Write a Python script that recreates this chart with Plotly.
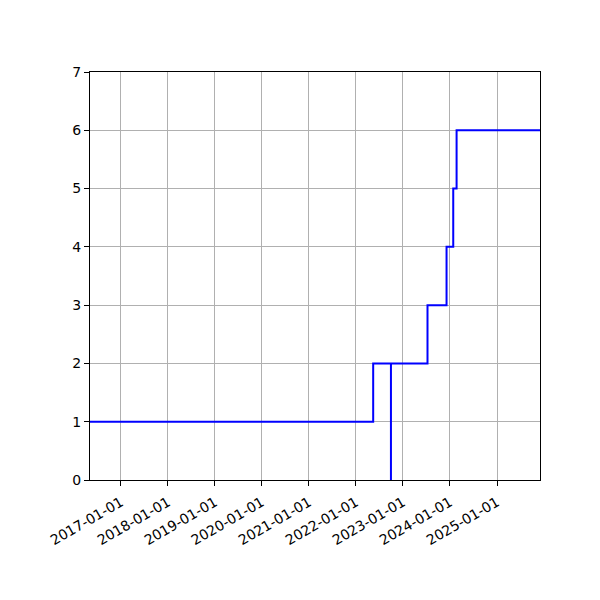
import plotly.graph_objects as go

dates = ["2016-05-06", "2022-05-15", "2022-09-30", "2022-09-30", "2023-07-11",
         "2023-12-06", "2024-01-27", "2024-02-22", "2025-12-01"]
values = [1, 2, 0, 2, 3, 4, 5, 6, 6]
tick_dates = ["2017-01-01", "2018-01-01", "2019-01-01", "2020-01-01", "2021-01-01",
              "2022-01-01", "2023-01-01", "2024-01-01", "2025-01-01"]
x_range = ["2016-05-06", "2025-12-01"]

fig = go.Figure(go.Scatter(x=dates, y=values, mode="lines",
                           line=dict(color="blue", width=2, shape="hv")))

axis_common = dict(showline=True, linecolor="black", linewidth=1, mirror=True,
                   ticks="outside", ticklen=5, tickcolor="black",
                   showgrid=True, gridcolor="#b0b0b0", gridwidth=1, zeroline=False,
                   tickfont=dict(family="DejaVu Sans", size=14, color="black"))

fig.update_layout(
    width=600, height=600,
    margin=dict(l=82, r=68, t=64, b=128),
    paper_bgcolor="white", plot_bgcolor="white",
    showlegend=False,
    xaxis=dict(range=x_range, tickvals=tick_dates, ticktext=tick_dates,
               tickangle=-30, ticklabelstandoff=3, **axis_common),
    yaxis=dict(range=[0, 7], tickvals=list(range(8)), **axis_common),
)

fig.write_html("out.html")
